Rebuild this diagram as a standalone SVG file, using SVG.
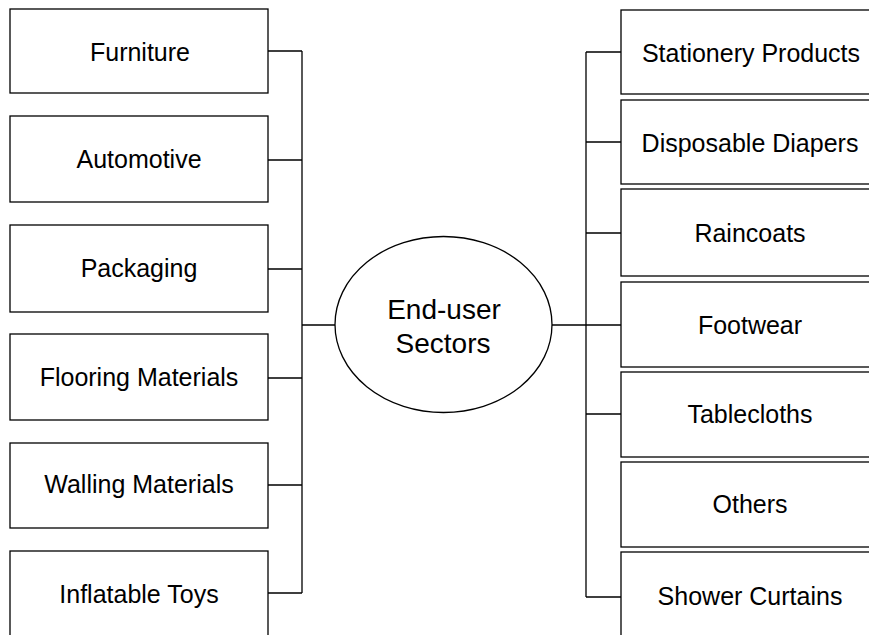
<svg xmlns="http://www.w3.org/2000/svg" width="869" height="635" viewBox="0 0 869 635">
<style>
.box{fill:#fff;stroke:#000;stroke-width:1.3}
.lbl{font-family:"Liberation Sans",Arial,sans-serif;font-size:25px;fill:#000;text-anchor:middle}
.hub{font-family:"Liberation Sans",Arial,sans-serif;font-size:28px;fill:#000;text-anchor:middle}
.conn{fill:none;stroke:#000;stroke-width:1.3}
</style>
<rect width="869" height="635" fill="#fff"/>
<g id="connectors" class="conn">
<path d="M268 51H302M268 160H302M268 269H302M268 378H302M268 485H302M268 593H302M302 51V593M302 325H335"/>
<path d="M552 325H586M586 52V597M586 52H621M586 142H621M586 233H621M586 325H621M586 414H621M586 597H621"/>
</g>
<g id="hub"><ellipse cx="443.5" cy="324.5" rx="108.5" ry="88" class="box"/><text class="hub" x="444" y="319">End-user</text><text class="hub" x="443" y="353">Sectors</text></g>
<g id="furniture"><rect class="box" x="10" y="9" width="258" height="84"/><text class="lbl" x="140" y="61">Furniture</text></g>
<g id="automotive"><rect class="box" x="10" y="116" width="258" height="86"/><text class="lbl" x="139" y="168">Automotive</text></g>
<g id="packaging"><rect class="box" x="10" y="225" width="258" height="87"/><text class="lbl" x="139" y="277">Packaging</text></g>
<g id="flooring"><rect class="box" x="10" y="334" width="258" height="86"/><text class="lbl" x="139" y="386">Flooring Materials</text></g>
<g id="walling"><rect class="box" x="10" y="443" width="258" height="85"/><text class="lbl" x="139" y="493">Walling Materials</text></g>
<g id="toys"><rect class="box" x="10" y="551" width="258" height="100"/><text class="lbl" x="139" y="603">Inflatable Toys</text></g>
<g id="stationery"><rect class="box" x="621" y="10" width="258" height="84"/><text class="lbl" x="751" y="62">Stationery Products</text></g>
<g id="diapers"><rect class="box" x="621" y="100" width="258" height="84"/><text class="lbl" x="750" y="152">Disposable Diapers</text></g>
<g id="raincoats"><rect class="box" x="621" y="189" width="258" height="87"/><text class="lbl" x="750" y="242">Raincoats</text></g>
<g id="footwear"><rect class="box" x="621" y="282" width="258" height="85"/><text class="lbl" x="750" y="334">Footwear</text></g>
<g id="tablecloths"><rect class="box" x="621" y="372" width="258" height="85"/><text class="lbl" x="750" y="423">Tablecloths</text></g>
<g id="others"><rect class="box" x="621" y="462" width="258" height="85"/><text class="lbl" x="750" y="513">Others</text></g>
<g id="shower"><rect class="box" x="621" y="552" width="258" height="100"/><text class="lbl" x="750" y="605">Shower Curtains</text></g>
</svg>
